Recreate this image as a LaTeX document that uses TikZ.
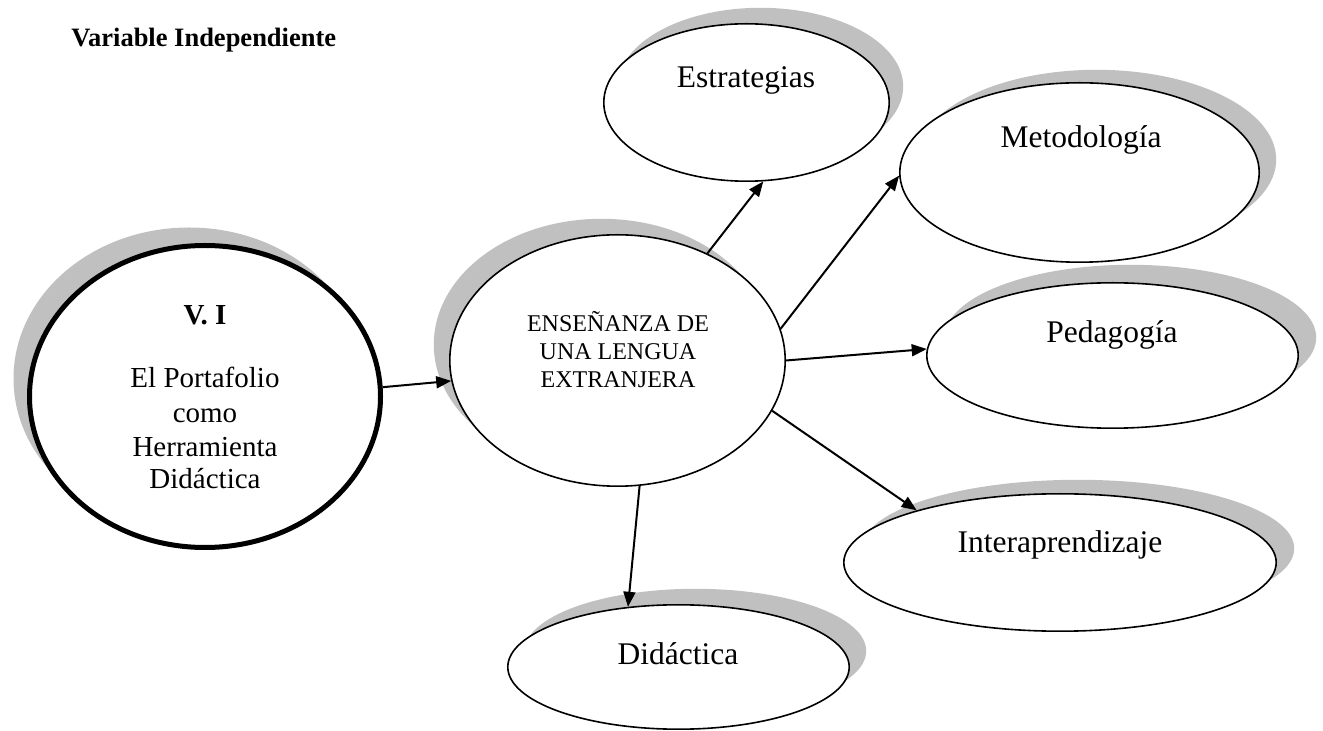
\documentclass[tikz,border=0pt]{standalone}
\usepackage{fontspec}
\setmainfont{Liberation Serif}
\usetikzlibrary{shapes.geometric,arrows.meta}
\definecolor{shadowgray}{RGB}{192,192,192}
\tikzset{
  oval/.style={ellipse, draw=black, fill=white, line width=0.8pt, inner sep=0pt},
  shup/.style 2 args={preaction={fill=shadowgray, draw=none, transform canvas={xshift=#1, yshift=#2}}},
  big/.style={font=\fontsize{15.75}{18}\selectfont, anchor=base, inner sep=0pt},
  vitxt/.style={font=\fontsize{14.5}{17}\selectfont, anchor=base, inner sep=0pt},
  cntxt/.style={font=\fontsize{12}{14}\selectfont, anchor=base, inner sep=0pt},
  arr/.style={-{Triangle[length=7.5pt,width=6pt]}, line width=1pt}
}
\begin{document}
\begin{tikzpicture}[x=0.5pt,y=-0.5pt]
\useasboundingbox (0,0) rectangle (1323,731);
% title
\node[font=\fontsize{13.25}{16}\selectfont\bfseries, anchor=base west, inner sep=0pt] (title) at (71,47) {Variable Independiente};
% ellipses
\node[oval, line width=2.5pt, minimum width=175.5pt, minimum height=151pt, shup={-8pt}{9pt}] (vi) at (205,396.5) {};
\node[oval, minimum width=167.7pt, minimum height=125.7pt, shup={-8pt}{8pt}] (cen) at (617.5,360.5) {};
\node[oval, minimum width=142.7pt, minimum height=78.7pt, shup={7pt}{8pt}] (est) at (746.5,102.5) {};
\node[oval, minimum width=179.7pt, minimum height=89.7pt, shup={8.5pt}{6.5pt}] (met) at (1079.5,172.5) {};
\node[oval, minimum width=185.7pt, minimum height=72.7pt, shup={9pt}{9pt}] (ped) at (1112.5,355.5) {};
\node[oval, minimum width=216.2pt, minimum height=68.7pt, shup={9pt}{7pt}] (int) at (1060,562.5) {};
\node[oval, minimum width=170.7pt, minimum height=62.2pt, shup={8.5pt}{8pt}] (did) at (678.5,667) {};
% texts
\node[vitxt, font=\fontsize{14.5}{17}\selectfont\bfseries] (vi1) at (205,325) {V. I};
\node[vitxt] (vi2) at (205,388) {El Portafolio};
\node[vitxt] (vi3) at (205,423) {como};
\node[vitxt] (vi4) at (205,457) {Herramienta};
\node[vitxt] (vi5) at (205,489) {Didáctica};
\node[cntxt] (cen1) at (618,332) {ENSEÑANZA DE};
\node[cntxt] (cen2) at (618,359.5) {UNA LENGUA};
\node[cntxt] (cen3) at (618,388) {EXTRANJERA};
\node[big] (estT) at (746,88) {Estrategias};
\node[big] (metT) at (1081,148) {Metodología};
\node[big] (pedT) at (1112,343) {Pedagogía};
\node[big] (intT) at (1060,553) {Interaprendizaje};
\node[big] (didT) at (678,665) {Didáctica};
% arrows
\draw[arr] (vi.3.7) -- (cen.187.6);
\draw[arr] (cen.50.8) -- (est.-78.2);
\draw[arr] (cen.11.6) -- (met.181.4);
\draw[arr] (cen.0.5) -- (ped.178.6);
\draw[arr] (cen.-18.8) -- (int.160.5);
\draw[arr] (cen.-80.3) -- (did.130.8);
\end{tikzpicture}
\end{document}
